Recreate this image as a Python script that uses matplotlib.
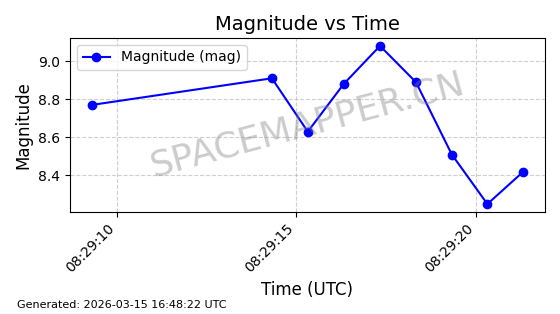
import matplotlib
matplotlib.use("Agg")
import matplotlib.pyplot as plt
import matplotlib.dates as mdates
import pandas as pd

times = ["2026-03-15 08:29:09.30", "2026-03-15 08:29:14.32", "2026-03-15 08:29:15.32",
         "2026-03-15 08:29:16.32", "2026-03-15 08:29:17.33", "2026-03-15 08:29:18.33",
         "2026-03-15 08:29:19.33", "2026-03-15 08:29:20.32", "2026-03-15 08:29:21.32"]
magnitudes = [8.77, 8.91, 8.63, 8.88, 9.08, 8.89, 8.51, 8.25, 8.42]

t = pd.to_datetime(times)

fig = plt.figure(figsize=(5.6, 3.14), dpi=100)
ax = fig.add_axes([0.125, 0.325, 0.848, 0.554])
ax.plot(t, magnitudes, marker='o', color='blue', linestyle='-', label='Magnitude (mag)')
ax.set_title('Magnitude vs Time', fontsize=14)
ax.set_xlabel('Time (UTC)', fontsize=12)
ax.set_ylabel('Magnitude', fontsize=12)
ax.grid(True, linestyle='--', alpha=0.6)
ax.legend(loc='upper left')
ax.xaxis.set_major_formatter(mdates.DateFormatter('%H:%M:%S'))
plt.setp(ax.get_xticklabels(), rotation=45, ha='right')
ax.text(0.5, 0.5, 'SPACEMAPPER.CN', transform=ax.transAxes, fontsize=26,
        color='gray', alpha=0.4, ha='center', va='center', rotation=15)
fig.text(0.03, 0.02, 'Generated: 2026-03-15 16:48:22 UTC', fontsize=8)
fig.savefig('out.png', dpi=100)
